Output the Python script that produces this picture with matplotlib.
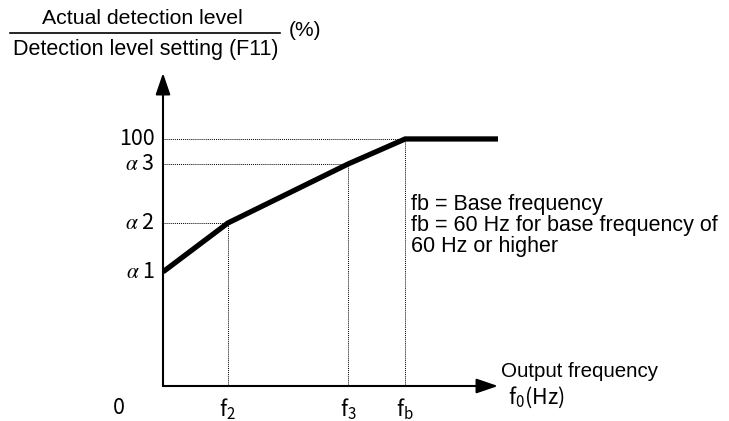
import matplotlib.pyplot as plt

# characteristic (x in Hz, fb = 60 Hz; y in % of F11 setting)
freq = [0, 16.1, 45.9, 60, 83]
level = [46.2, 66.0, 89.9, 100, 100]
x_ticks = [0, 16.1, 45.9, 60]
x_labels = ["0", "f$_\\mathregular{2}$", "f$_\\mathregular{3}$", "f$_\\mathregular{b}$"]
y_ticks = [46.2, 66.0, 89.9, 100]
y_labels = ["$\\alpha$ 1", "$\\alpha$ 2", "$\\alpha$ 3", "100"]

plt.rcParams['font.family'] = ['Liberation Sans', 'DejaVu Sans']
plt.rcParams['mathtext.fontset'] = 'stix'
tickfont = ['Noto Sans CJK JP', 'DejaVu Sans']

fig = plt.figure(figsize=(7.29, 4.21), dpi=100)
W, H = 729, 421
ax = fig.add_axes([163/W, (H-386)/H, 335/W, 313/H])
ax.set_xlim(0, 83)
ax.set_ylim(0, 126.7)
ax.axis('off')

# axes with arrows
arrow = dict(arrowstyle='-|>,head_length=0.82,head_width=0.28',
             color='black', lw=1.5, mutation_scale=16, shrinkA=0, shrinkB=0)
ax.annotate('', xy=(1, 0), xytext=(0, 0), xycoords='axes fraction', arrowprops=arrow)
ax.annotate('', xy=(0, 1), xytext=(0, 0), xycoords='axes fraction', arrowprops=arrow)

# dotted guides
for x, y in zip(freq[1:4], level[1:4]):
    ax.plot([0, x], [y, y], color='black', lw=0.7, ls=(0, (1, 1)))
    ax.plot([x, x], [0, y], color='black', lw=0.7, ls=(0, (1, 1)))

ax.plot(freq, level, color='black', lw=3.8, solid_capstyle='butt', solid_joinstyle='miter')

# tick labels
for y, lab in zip(y_ticks, y_labels):
    ax.text(-2.0, y, lab, ha='right', va='center', fontsize=15.5, family=tickfont)
for x, lab in zip(x_ticks, x_labels):
    xx = x - 11 if x == 0 else x
    ax.text(xx, -9, lab, ha='center', va='center', fontsize=15.5, family=tickfont)

ax.text(83.7, 5.7, "Output frequency", ha='left', va='center', fontsize=14.8)
ax.text(85.5, -4.5, "f$_\\mathregular{0}$(Hz)", ha='left', va='center', fontsize=15.5, family=tickfont)

ax.text(61.4, 64.8, "fb = Base frequency\nfb = 60 Hz for base frequency of\n60 Hz or higher",
        ha='left', va='center', fontsize=15.5, linespacing=1.0)

# y-axis title as a fraction
fig.text(142/W, 1 - 18/H, "Actual detection level", ha='center', va='center', fontsize=15.3)
fig.add_artist(plt.Line2D([10/W, 280/W], [1 - 33/H, 1 - 33/H], color='black', lw=1.2))
fig.text(146/W, 1 - 50/H, "Detection level setting (F11)", ha='center', va='center', fontsize=15.5)
fig.text(289/W, 1 - 30/H, "(%)", ha='left', va='center', fontsize=15)

fig.savefig("out.png", dpi=100)
